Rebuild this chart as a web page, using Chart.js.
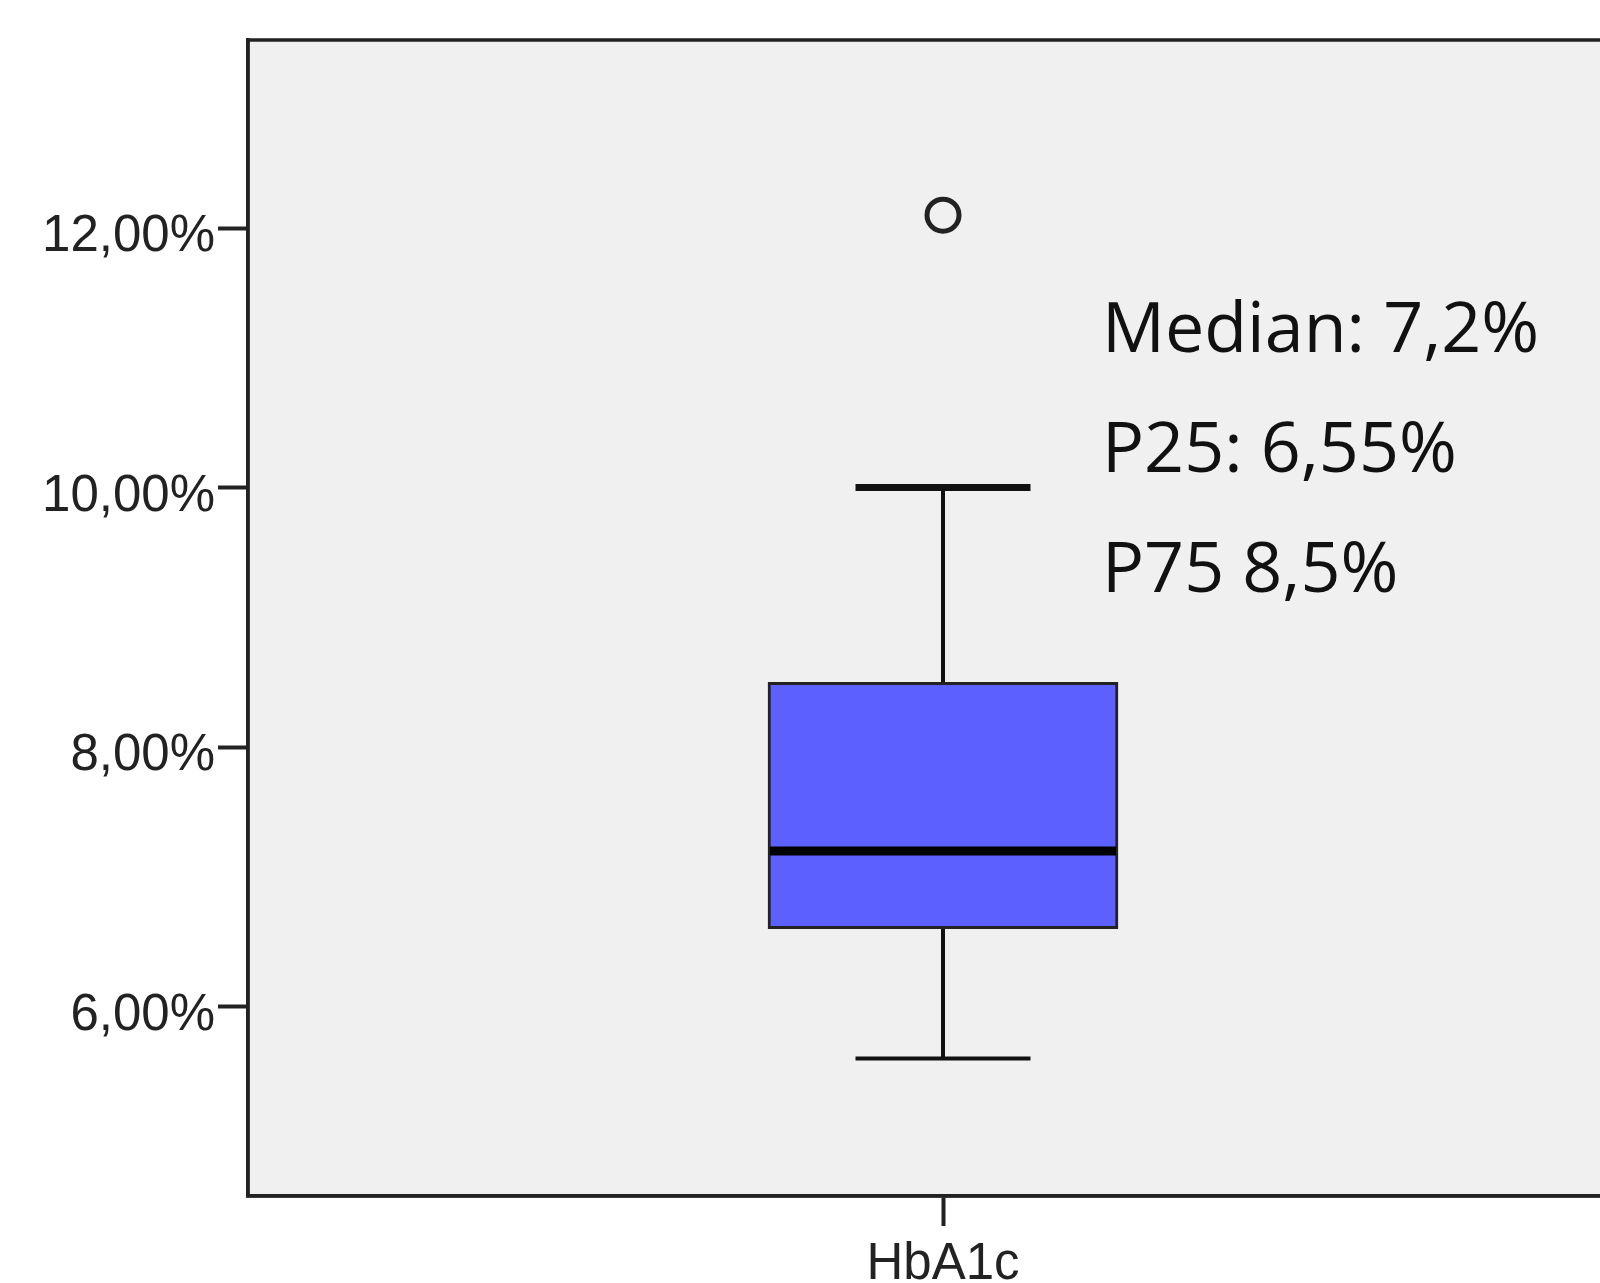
<!DOCTYPE html>
<html>
<head>
<meta charset="utf-8">
<script src="https://cdn.jsdelivr.net/npm/chart.js@4.4.0/dist/chart.umd.min.js"></script>
<style>
  html, body { margin: 0; padding: 0; background: #ffffff; overflow: hidden; }
  #wrap { width: 1660px; height: 1283px; }
</style>
</head>
<body>
<div id="wrap"><canvas id="c" width="1660" height="1283"></canvas></div>
<script>
// ---- data ----
const categories = ['HbA1c'];
const q1Values = [6.6];
const q3Values = [8.5];
const medianValues = [7.2];
const whiskerLow = [5.6];
const whiskerHigh = [10.0];
const outlierValues = [12.1];
const yTickValues = [6, 8, 10, 12];
const yTickLabels = ['6,00%', '8,00%', '10,00%', '12,00%'];
const annotationLines = ['Median: 7,2%', 'P25: 6,55%', 'P75 8,5%'];

const AXIS = '#222222';

const framePlugin = {
  id: 'frame',
  beforeDraw(chart) {
    const { ctx, chartArea: a } = chart;
    ctx.save();
    ctx.fillStyle = '#f0f0f0';
    ctx.fillRect(a.left, a.top, a.right - a.left, a.bottom - a.top);
    ctx.restore();
  },
  afterDraw(chart) {
    const { ctx, chartArea: a } = chart;
    ctx.save();
    ctx.strokeStyle = AXIS;
    ctx.lineWidth = 3.5;
    ctx.strokeRect(a.left, a.top, a.right - a.left, a.bottom - a.top);
    // annotation text
    ctx.fillStyle = '#111111';
    ctx.font = '70px "Open Sans"';
    ctx.textAlign = 'left';
    ctx.textBaseline = 'alphabetic';
    annotationLines.forEach((t, i) => {
      ctx.fillText(t, a.left + 854, a.top + 312 + i * 120);
    });
    ctx.restore();
  }
};

const boxPlugin = {
  id: 'boxParts',
  beforeDatasetsDraw(chart) {
    const { ctx } = chart;
    const xs = chart.scales.x, ys = chart.scales.y;
    ctx.save();
    ctx.strokeStyle = '#111111';
    ctx.lineCap = 'butt';
    categories.forEach((c, i) => {
      const x = xs.getPixelForValue(i);
      const meta = chart.getDatasetMeta(0).data[i];
      const half = meta.width / 4;
      const yq1 = ys.getPixelForValue(q1Values[i]);
      const yq3 = ys.getPixelForValue(q3Values[i]);
      const ylo = ys.getPixelForValue(whiskerLow[i]);
      const yhi = ys.getPixelForValue(whiskerHigh[i]);
      ctx.lineWidth = 4;
      ctx.beginPath();
      ctx.moveTo(x, yq3); ctx.lineTo(x, yhi);
      ctx.moveTo(x, yq1); ctx.lineTo(x, ylo);
      ctx.stroke();
      ctx.lineWidth = 7;
      ctx.beginPath();
      ctx.moveTo(x - half, yhi); ctx.lineTo(x + half, yhi);
      ctx.stroke();
      ctx.lineWidth = 4;
      ctx.beginPath();
      ctx.moveTo(x - half, ylo); ctx.lineTo(x + half, ylo);
      ctx.stroke();
    });
    ctx.restore();
  },
  afterDatasetsDraw(chart) {
    const { ctx } = chart;
    const ys = chart.scales.y;
    ctx.save();
    ctx.strokeStyle = '#000000';
    ctx.lineWidth = 9;
    categories.forEach((c, i) => {
      const bar = chart.getDatasetMeta(0).data[i];
      const y = ys.getPixelForValue(medianValues[i]);
      ctx.beginPath();
      ctx.moveTo(bar.x - bar.width / 2 + 2, y);
      ctx.lineTo(bar.x + bar.width / 2 - 2, y);
      ctx.stroke();
    });
    ctx.restore();
  }
};

new Chart(document.getElementById('c'), {
  type: 'bar',
  data: {
    labels: categories,
    datasets: [
      {
        type: 'bar',
        data: categories.map((c, i) => [q1Values[i], q3Values[i]]),
        backgroundColor: '#5c60ff',
        borderColor: '#222222',
        borderWidth: 3,
        borderSkipped: false,
        barThickness: 350,
        order: 2
      },
      {
        type: 'line',
        data: outlierValues,
        showLine: false,
        pointStyle: 'circle',
        pointRadius: 16,
        pointBorderWidth: 5,
        pointBorderColor: '#222222',
        pointBackgroundColor: 'rgba(0,0,0,0)',
        order: 1
      }
    ]
  },
  options: {
    responsive: false,
    animation: false,
    devicePixelRatio: 1,
    layout: { padding: { top: 40, right: 22, left: 0, bottom: 0 } },
    plugins: { legend: { display: false }, tooltip: { enabled: false } },
    scales: {
      y: {
        min: 4.54,
        max: 13.45,
        afterFit(s) { s.width = 248; },
        afterBuildTicks(s) { s.ticks = yTickValues.map(v => ({ value: v })); },
        ticks: {
          callback(v) { const k = yTickValues.indexOf(v); return k >= 0 ? yTickLabels[k] : ''; },
          font: { family: '"Liberation Sans", Arial, sans-serif', size: 51 },
          color: '#222222',
          padding: 3,
          labelOffset: 9
        },
        grid: { drawOnChartArea: false, drawTicks: true, tickLength: 30, tickWidth: 4, tickColor: AXIS },
        border: { display: true, color: AXIS, width: 3.5 }
      },
      x: {
        afterFit(s) { s.height = 87; },
        ticks: {
          font: { family: '"Liberation Sans", Arial, sans-serif', size: 51 },
          color: '#222222',
          padding: 8
        },
        grid: { offset: false, drawOnChartArea: false, drawTicks: true, tickLength: 30, tickWidth: 4, tickColor: AXIS },
        border: { display: true, color: AXIS, width: 3.5 }
      }
    }
  },
  plugins: [framePlugin, boxPlugin]
});
</script>
</body>
</html>
